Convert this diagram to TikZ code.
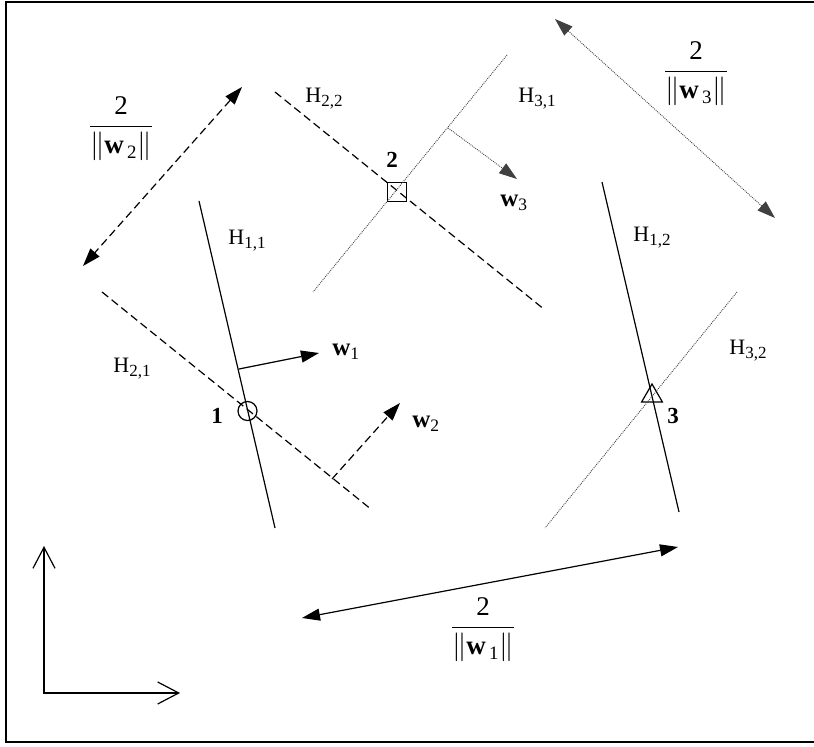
\documentclass[tikz,border=0pt]{standalone}
\usepackage{amsmath}
\usepackage{fontspec}
\setmainfont{Liberation Serif}
\usetikzlibrary{arrows.meta,shapes.geometric}
\newcommand\hsub[1]{\raisebox{-0.32ex}{\fontsize{8.5}{9}\selectfont#1}}
\tikzset{
  plane/.style={line width=0.6pt, draw=black},
  dashplane/.style={plane, dash pattern=on 4pt off 2.2pt},
  dotplane/.style={line width=0.45pt, draw=black!75, dash pattern=on 0.45pt off 0.55pt},
  head/.style={-{Triangle[length=9pt,width=6pt]}},
  heads/.style={{Triangle[length=9pt,width=6pt]}-{Triangle[length=9pt,width=6pt]}},
  point/.style={draw, line width=0.6pt, inner sep=0pt},
  hlabel/.style={font=\fontsize{11}{13}\selectfont, inner sep=0pt, anchor=base west},
  wlabel/.style={font=\fontsize{12.5}{14}\selectfont, inner sep=0pt, anchor=base west},
  ptlabel/.style={font=\fontsize{11.5}{13}\selectfont\bfseries, inner sep=0pt, anchor=base},
  marglabel/.style={font=\fontsize{13.5}{16}\selectfont, inner sep=0pt, anchor=base},
  axis/.style={line width=0.6pt, {Straight Barb[length=10.5pt,width=11pt]}-{Straight Barb[length=10.5pt,width=11pt]}},
}
\begin{document}
\begin{tikzpicture}[x=0.5pt,y=-0.5pt]
\useasboundingbox (0,0) rectangle (814,747);
\draw[line width=1.2pt] (5.7,1.8) rectangle (818,742);
% the three training points
\node[point, circle, minimum size=9.5pt] (p1) at (247.5,411) {};
\node[point, rectangle, minimum size=9.5pt] (p2) at (397,192) {};
\node[point, regular polygon, regular polygon sides=3, minimum size=12pt] (p3) at (652,396) {};
\node[ptlabel] (l1) at (217,424) {1};
\node[ptlabel] (l2) at (392,168) {2};
\node[ptlabel] (l3) at (673,424) {3};
% hyperplane ends
\coordinate (h11a) at (199,201); \coordinate (h11b) at (275,528);
\coordinate (h12a) at (602,182); \coordinate (h12b) at (679,512);
\coordinate (h21a) at (102,292); \coordinate (h21b) at (372,510);
\coordinate (h22a) at (275,92);  \coordinate (h22b) at (545,310);
\coordinate (h31a) at (507,55);  \coordinate (h31b) at (313,292);
\coordinate (h32a) at (737,292); \coordinate (h32b) at (545,528);
\draw[plane] (h11a) -- (h11b);
\draw[plane] (h12a) -- (h12b);
\draw[dashplane] (h21a) -- (h21b);
\draw[dashplane] (h22a) -- (h22b);
\draw[dotplane] (h31a) -- (h31b);
\draw[dotplane] (h32a) -- (h32b);
\node[hlabel] (th11) at (228,245) {H\hsub{1,1}};
\node[hlabel] (th12) at (633,242) {H\hsub{1,2}};
\node[hlabel] (th21) at (113,373) {H\hsub{2,1}};
\node[hlabel] (th22) at (305,103) {H\hsub{2,2}};
\node[hlabel] (th31) at (518,103) {H\hsub{3,1}};
\node[hlabel] (th32) at (729,355) {H\hsub{3,2}};
% normal vectors
\coordinate (w1a) at (239,369); \coordinate (w1b) at (319,353);
\coordinate (w2a) at (332,479); \coordinate (w2b) at (400,403);
\coordinate (w3a) at (448,128); \coordinate (w3b) at (517,179);
\draw[plane, head] (w1a) -- (w1b);
\draw[dashplane, head] (w2a) -- (w2b);
\draw[dotplane, head] (w3a) -- (w3b);
\node[wlabel] (tw1) at (332,356) {\textbf{w}\textsubscript{1}};
\node[wlabel] (tw2) at (412,428) {\textbf{w}\textsubscript{2}};
\node[wlabel] (tw3) at (500,207) {\textbf{w}\textsubscript{3}};
% margins
\coordinate (m1a) at (302,618); \coordinate (m1b) at (678,547);
\coordinate (m2a) at (242,87);  \coordinate (m2b) at (83,266);
\coordinate (m3a) at (555,19);  \coordinate (m3b) at (775,218);
\draw[plane, heads] (m1a) -- (m1b);
\draw[dashplane, heads] (m2a) -- (m2b);
\draw[dotplane, heads] (m3a) -- (m3b);
\node[marglabel] (tm1) at (483,635) {$\displaystyle\frac{\text{2}}{\left\|\textbf{w}_{\,\text{1}}\right\|}$};
\node[marglabel] (tm2) at (121,134) {$\displaystyle\frac{\text{2}}{\left\|\textbf{w}_{\,\text{2}}\right\|}$};
\node[marglabel] (tm3) at (696,79)  {$\displaystyle\frac{\text{2}}{\left\|\textbf{w}_{\,\text{3}}\right\|}$};
% axes
\coordinate (o) at (44,693);
\coordinate (ay) at (44,546);
\coordinate (ax) at (180,693);
\draw[axis] (ay) -- (o) -- (ax);
\end{tikzpicture}
\end{document}
